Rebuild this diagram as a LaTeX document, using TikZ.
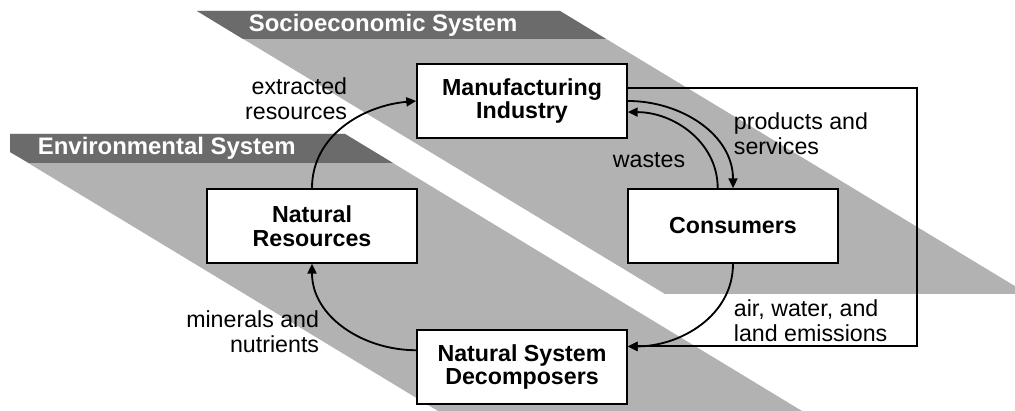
\documentclass[tikz,border=0pt]{standalone}
\usepackage{fontspec}
\setmainfont{Liberation Sans}
\usepackage{tikz}
\usetikzlibrary{arrows.meta,positioning,calc}
\definecolor{bandlight}{RGB}{178,178,178}
\definecolor{banddark}{RGB}{107,107,107}
\tikzset{
  sysbox/.style={rectangle,draw,fill=white,line width=1.2pt,minimum width=5.25cm,minimum height=1.85cm,align=center,inner sep=2pt,font=\fontsize{16.5}{17}\selectfont\bfseries},
  flowlabel/.style={inner sep=0pt,font=\fontsize{16.5}{17.8}\selectfont},
  bandtitle/.style={anchor=west,inner sep=0pt,text=white,font=\fontsize{17}{18}\selectfont\bfseries}
}

\begin{document}
\begin{tikzpicture}[x=0.025cm,y=0.025cm,>={Triangle[length=7pt,width=6.5pt]},line width=1.3pt]
  \useasboundingbox (0,0) rectangle (1015,411);
  \begin{scope}
    \clip (0,0) rectangle (1015,411);
    \fill[bandlight] (197,400) -- (560,400) -- (1028,117) -- (665,117) -- cycle;
    \fill[banddark] (197,400) -- (560,400) -- (606,372) -- (243,372) -- cycle;
    \fill[bandlight] (10,277) -- (345,277) -- (802,0) -- (438,0) -- (10,259) -- cycle;
    \fill[banddark] (10,277) -- (345,277) -- (393,248) -- (29,248) -- (10,259) -- cycle;
  \end{scope}
  \node[bandtitle] (socio) at (248,386) {Socioeconomic System};
  \node[bandtitle] (enviro) at (37,263) {Environmental System};

  \node[sysbox] (manuf)  at (522,310) {Manufacturing\\Industry};
  \node[sysbox] (natres) at (312,185) {Natural\\Resources};
  \node[sysbox] (consum) at (733,185) {Consumers};
  \node[sysbox] (decomp) at (522,44)  {Natural System\\Decomposers};

  \node[flowlabel,anchor=east,align=right] (extr) at (348,312) {extracted\\resources};
  \node[flowlabel,anchor=west,align=left]  (prod) at (733,277) {products and\\services};
  \node[flowlabel] (wast) at (649,251) {wastes};
  \node[flowlabel,anchor=west,align=left]  (emis) at (733,90)  {air, water, and\\land emissions};
  \node[flowlabel,anchor=east,align=right] (minr) at (320,79)  {minerals and\\nutrients};

  \draw[->] (natres.north) to[out=90,in=185] (manuf.west);
  \draw[->] (manuf.east) to[out=0,in=90] (consum.north);
  \draw[->] (consum.112) to[out=90,in=0] (manuf.-6);
  \draw[->] (consum.south) to[out=-90,in=0] (decomp.11);
  \draw[->] (manuf.7) -- ++(289,0) |- (decomp.11);
  \draw[->] (decomp.171) to[out=180,in=-90] (natres.south);
\end{tikzpicture}
\end{document}
